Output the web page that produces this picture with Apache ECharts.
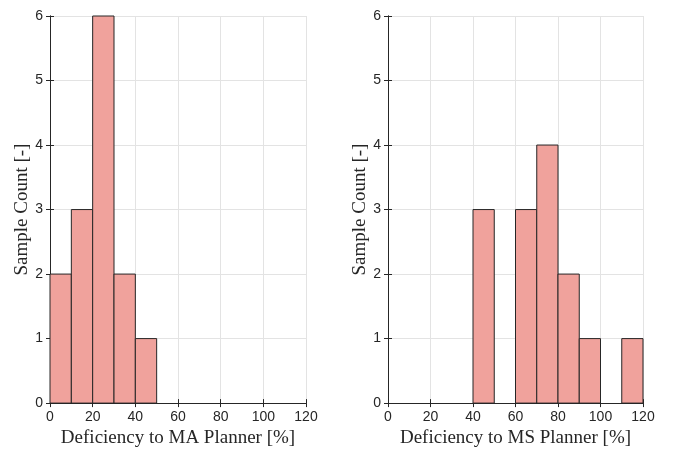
<!DOCTYPE html>
<html lang="en">
<head>
<meta charset="UTF-8">
<title>histograms</title>
<script src="https://cdn.jsdelivr.net/npm/echarts@6/dist/echarts.min.js"></script>
<style>html,body{margin:0;padding:0;background:#fff}</style>
</head>
<body>
<div id="container" style="width:680px;height:453px"></div>
<script>
// bin left edges (width 10) and counts
var binStartMA = [0, 10, 20, 30, 40];
var countMA = [2, 3, 6, 2, 1];
var binStartMS = [40, 60, 70, 80, 90, 110];
var countMS = [3, 3, 4, 2, 1, 1];
var binWidth = 10;

var tickFont = 'Liberation Sans, Arial, sans-serif';
var labelFont = 'Liberation Serif, Times New Roman, serif';

function histData(starts, counts) {
    return starts.map(function (s, i) { return [s, s + binWidth, counts[i]]; });
}

function renderBin(params, api) {
    var p0 = api.coord([api.value(0), 0]);
    var p1 = api.coord([api.value(1), api.value(2)]);
    return {
        type: 'rect',
        shape: { x: p0[0], y: p1[1], width: p1[0] - p0[0], height: p0[1] - p1[1] },
        style: { fill: '#f0a29c', stroke: '#262626', lineWidth: 1 }
    };
}

function xAxes(idx, name) {
    return [{
        type: 'value', gridIndex: idx, min: 0, max: 120, interval: 20,
        name: name, nameLocation: 'middle', nameGap: 22,
        nameTextStyle: { fontFamily: labelFont, fontSize: 19, color: '#262626' },
        axisLine: { show: true, lineStyle: { color: '#262626' } },
        axisTick: { show: true, inside: true, length: 4, lineStyle: { color: '#262626' } },
        axisLabel: { fontFamily: tickFont, fontSize: 14, color: '#262626', margin: 7 },
        splitLine: { show: true, lineStyle: { color: '#e3e3e3' } }
    }, {
        type: 'value', gridIndex: idx, position: 'top', min: 0, max: 120, interval: 20,
        axisLine: { show: true, lineStyle: { color: '#262626' } },
        axisTick: { show: true, inside: true, length: 4, lineStyle: { color: '#262626' } },
        axisLabel: { show: false }, splitLine: { show: false }
    }];
}

function yAxes(idx) {
    return [{
        type: 'value', gridIndex: idx, min: 0, max: 6, interval: 1,
        name: 'Sample Count [-]', nameLocation: 'middle', nameGap: 17,
        nameTextStyle: { fontFamily: labelFont, fontSize: 19, color: '#262626' },
        axisLine: { show: true, lineStyle: { color: '#262626' } },
        axisTick: { show: true, inside: true, length: 4, lineStyle: { color: '#262626' } },
        axisLabel: { fontFamily: tickFont, fontSize: 14, color: '#262626', margin: 7 },
        splitLine: { show: true, lineStyle: { color: '#e3e3e3' } }
    }, {
        type: 'value', gridIndex: idx, position: 'right', min: 0, max: 6, interval: 1,
        axisLine: { show: true, lineStyle: { color: '#262626' } },
        axisTick: { show: true, inside: true, length: 4, lineStyle: { color: '#262626' } },
        axisLabel: { show: false }, splitLine: { show: false }
    }];
}

var chart = echarts.init(document.getElementById('container'));
chart.setOption({
    backgroundColor: '#fff',
    animation: false,
    grid: [
        { left: 50, right: 374, top: 16, bottom: 48 },
        { left: 388, right: 37, top: 16, bottom: 48 }
    ],
    xAxis: xAxes(0, 'Deficiency to MA Planner [%]').concat(xAxes(1, 'Deficiency to MS Planner [%]')),
    yAxis: yAxes(0).concat(yAxes(1)),
    series: [{
        type: 'custom', xAxisIndex: 0, yAxisIndex: 0,
        renderItem: renderBin, encode: { x: [0, 1], y: 2 },
        data: histData(binStartMA, countMA)
    }, {
        type: 'custom', xAxisIndex: 2, yAxisIndex: 2,
        renderItem: renderBin, encode: { x: [0, 1], y: 2 },
        data: histData(binStartMS, countMS)
    }]
});
</script>
</body>
</html>
